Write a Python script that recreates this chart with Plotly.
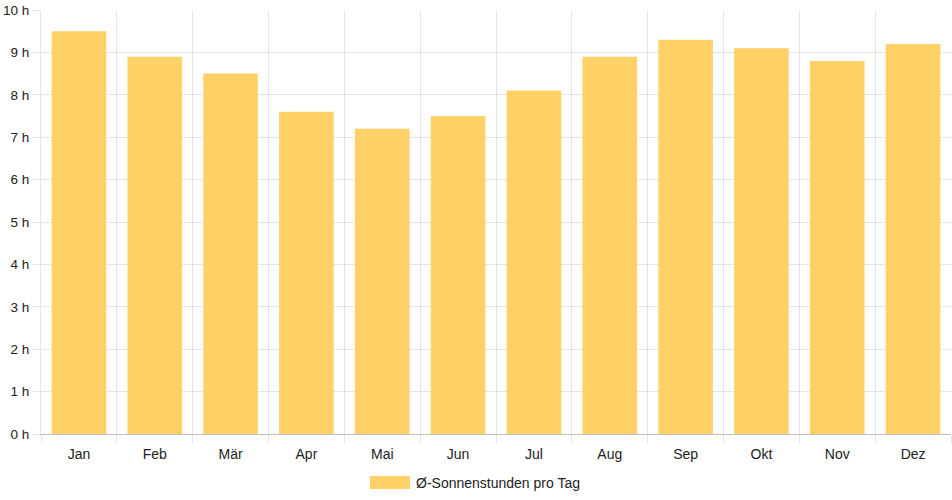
import plotly.graph_objects as go

# Durchschnittliche Sonnenstunden pro Tag
months = ['Jan', 'Feb', 'Mär', 'Apr', 'Mai', 'Jun', 'Jul', 'Aug', 'Sep', 'Okt', 'Nov', 'Dez']
sun_hours = [9.5, 8.9, 8.5, 7.6, 7.2, 7.5, 8.1, 8.9, 9.3, 9.1, 8.8, 9.2]
series_name = 'Ø-Sonnenstunden pro Tag'
y_ticks = list(range(0, 11))
y_labels = [f'{v} h' for v in y_ticks]

bar_color = '#FFD166'
grid_color = 'rgba(0,0,0,0.1)'
font_color = '#222222'

fig = go.Figure()
fig.add_trace(go.Bar(x=months, y=sun_hours, name=series_name,
                     marker=dict(color=bar_color, line=dict(width=0)),
                     showlegend=False))

fig.update_layout(
    width=952, height=500,
    margin=dict(l=41, r=1, t=10, b=66),
    paper_bgcolor='white', plot_bgcolor='white',
    font=dict(family='Liberation Sans, Arial, sans-serif', size=14, color=font_color),
    bargap=0.28,
)

fig.update_xaxes(type='category', tickson='boundaries', showgrid=True, gridcolor=grid_color,
                 ticks='outside', ticklen=8, tickcolor=grid_color,
                 showline=True, linecolor='rgba(0,0,0,0.25)', linewidth=1,
                 ticklabelstandoff=7,
                 tickfont=dict(size=14, color=font_color))
fig.update_yaxes(range=[0, 10], tickvals=y_ticks, ticktext=y_labels,
                 showgrid=True, gridcolor=grid_color, zeroline=False,
                 ticks='outside', ticklen=8, tickcolor=grid_color,
                 showline=True, linecolor=grid_color,
                 tickfont=dict(size=13.5, color=font_color))

# legend drawn as swatch + text, Chart.js style
fig.add_shape(type='rect', xref='paper', yref='paper',
              x0=(370 - 41) / 910, x1=(410 - 41) / 910,
              y0=-(489 - 434) / 424, y1=-(476 - 434) / 424,
              fillcolor=bar_color, line=dict(width=0))
fig.add_annotation(text=series_name, xref='paper', yref='paper',
                   x=(414 - 41) / 910, y=-(482.5 - 434) / 424,
                   xanchor='left', yanchor='middle', showarrow=False,
                   font=dict(size=14, color=font_color))

fig.write_html('out.html', config={'displayModeBar': False},
               post_script="document.body.style.margin='0';document.body.style.overflow='hidden';")
